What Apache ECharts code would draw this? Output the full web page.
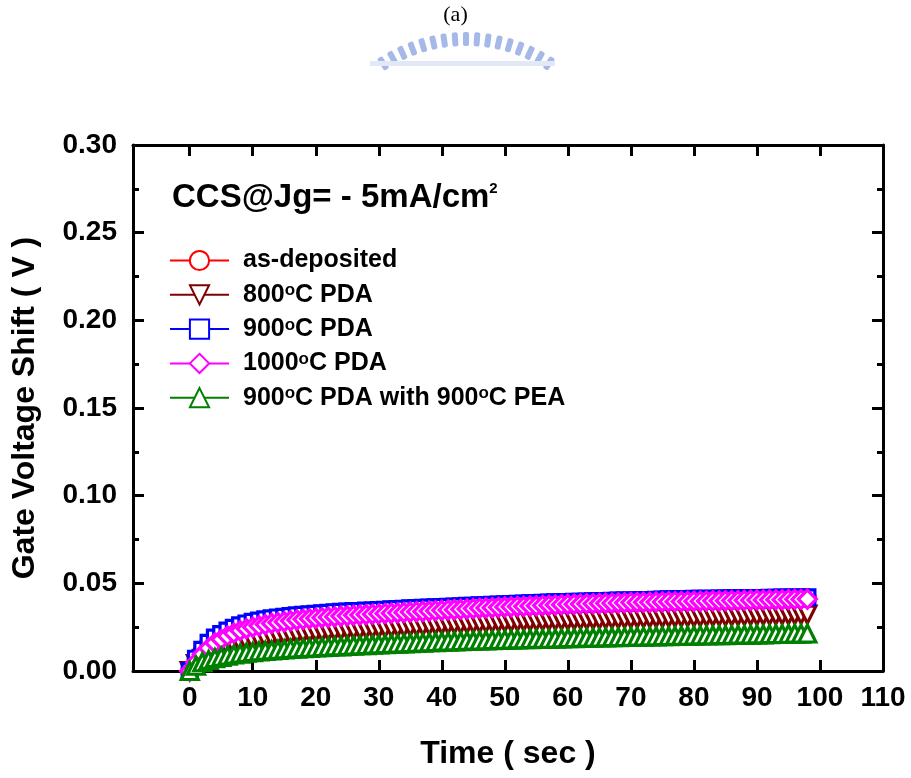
<!DOCTYPE html>
<html>
<head>
<meta charset="utf-8">
<script src="https://cdn.jsdelivr.net/npm/echarts@6/dist/echarts.min.js"></script>
<style>html,body{margin:0;padding:0;background:#fff}#c{width:911px;height:778px}</style>
</head>
<body>
<div id="c"></div>
<script>
// ---- data ----
const TIME = [0,1,2,3,4,5,6,7,8,9,10,11,12,13,14,15,16,17,18,19,20,21,22,23,24,25,26,27,28,29,30,31,32,33,34,35,36,37,38,39,40,41,42,43,44,45,46,47,48,49,50,51,52,53,54,55,56,57,58,59,60,61,62,63,64,65,66,67,68,69,70,71,72,73,74,75,76,77,78,79,80,81,82,83,84,85,86,87,88,89,90,91,92,93,94,95,96,97,98];
const AS_DEP = [0,.0066,.0116,.0156,.0186,.0207,.0226,.0242,.0256,.0267,.0276,.0284,.0291,.0297,.0302,.0306,.0310,.0314,.0317,.0320,.0323,.0326,.0329,.0332,.0334,.0336,.0338,.0339,.0341,.0342,.0344,.0346,.0348,.0350,.0352,.0354,.0356,.0357,.0359,.0360,.0362,.0363,.0365,.0366,.0368,.0369,.0371,.0372,.0374,.0375,.0377,.0378,.0380,.0381,.0383,.0384,.0385,.0387,.0388,.0389,.0390,.0391,.0392,.0393,.0394,.0395,.0396,.0397,.0398,.0398,.0399,.0400,.0401,.0402,.0403,.0404,.0405,.0406,.0407,.0407,.0408,.0408,.0409,.0409,.0410,.0410,.0411,.0411,.0412,.0412,.0413,.0413,.0414,.0414,.0415,.0415,.0416,.0416,.0417];
const PDA800 = [0,.0040,.0070,.0090,.0106,.0120,.0132,.0144,.0155,.0163,.0170,.0177,.0183,.0190,.0195,.0200,.0204,.0208,.0212,.0215,.0218,.0221,.0224,.0227,.0230,.0232,.0234,.0236,.0238,.0240,.0242,.0244,.0246,.0248,.0250,.0252,.0254,.0256,.0258,.0260,.0262,.0264,.0265,.0267,.0268,.0270,.0271,.0273,.0274,.0276,.0277,.0278,.0280,.0281,.0282,.0283,.0284,.0285,.0286,.0287,.0288,.0289,.0290,.0291,.0292,.0293,.0294,.0295,.0296,.0297,.0298,.0299,.0300,.0301,.0302,.0302,.0303,.0304,.0305,.0306,.0306,.0307,.0308,.0309,.0310,.0310,.0311,.0312,.0313,.0314,.0314,.0315,.0316,.0317,.0318,.0318,.0319,.0320,.0321];
const PDA900 = [0,.0070,.0120,.0160,.0190,.0210,.0230,.0246,.0260,.0271,.0280,.0287,.0294,.0300,.0305,.0309,.0313,.0317,.0320,.0323,.0326,.0329,.0332,.0335,.0337,.0339,.0341,.0342,.0344,.0345,.0347,.0349,.0351,.0353,.0355,.0357,.0359,.0360,.0362,.0363,.0365,.0366,.0368,.0369,.0371,.0372,.0374,.0375,.0377,.0378,.0380,.0381,.0383,.0384,.0386,.0387,.0388,.0390,.0391,.0392,.0393,.0394,.0395,.0396,.0397,.0398,.0399,.0400,.0401,.0401,.0402,.0403,.0404,.0405,.0406,.0407,.0408,.0409,.0410,.0410,.0411,.0411,.0412,.0412,.0413,.0413,.0414,.0414,.0415,.0415,.0416,.0416,.0417,.0417,.0418,.0418,.0419,.0419,.0420];
const PDA1000 = [0,.0050,.0095,.0130,.0160,.0180,.0200,.0216,.0230,.0241,.0250,.0258,.0265,.0271,.0276,.0281,.0286,.0291,.0295,.0298,.0301,.0304,.0307,.0310,.0313,.0315,.0318,.0320,.0322,.0324,.0326,.0328,.0330,.0332,.0334,.0336,.0338,.0340,.0342,.0344,.0346,.0348,.0350,.0352,.0354,.0356,.0358,.0360,.0361,.0363,.0365,.0366,.0368,.0369,.0371,.0372,.0374,.0375,.0377,.0378,.0380,.0381,.0382,.0383,.0384,.0385,.0386,.0387,.0388,.0389,.0390,.0391,.0392,.0392,.0393,.0394,.0395,.0395,.0396,.0397,.0398,.0398,.0399,.0400,.0400,.0401,.0402,.0402,.0403,.0404,.0405,.0405,.0406,.0407,.0407,.0408,.0409,.0409,.0410];
const PDA900_PEA = [0,.0030,.0050,.0063,.0073,.0081,.0088,.0094,.0099,.0104,.0108,.0112,.0115,.0118,.0121,.0123,.0126,.0128,.0130,.0132,.0134,.0136,.0138,.0140,.0141,.0143,.0145,.0147,.0148,.0150,.0152,.0153,.0155,.0156,.0158,.0159,.0161,.0162,.0164,.0165,.0167,.0168,.0169,.0170,.0172,.0173,.0174,.0175,.0176,.0177,.0178,.0179,.0180,.0181,.0182,.0183,.0183,.0184,.0185,.0186,.0187,.0188,.0189,.0190,.0190,.0191,.0192,.0193,.0193,.0194,.0195,.0196,.0196,.0197,.0198,.0199,.0199,.0200,.0201,.0201,.0202,.0203,.0203,.0204,.0205,.0205,.0206,.0207,.0207,.0208,.0209,.0209,.0210,.0211,.0211,.0212,.0213,.0213,.0214];
const SERIES_NAMES = ['as-deposited','800°C PDA','900°C PDA','1000°C PDA','900°C PDA with 900°C PEA'];
const SERIES_VALUES = [AS_DEP, PDA800, PDA900, PDA1000, PDA900_PEA];
const X_TICKS = [0,10,20,30,40,50,60,70,80,90,100,110];
const Y_TICKS = [0,0.05,0.10,0.15,0.20,0.25,0.30];

// ---- styles ----
const COLORS = ['#ff0000','#800000','#0000ff','#ff00ff','#008000'];
const SYMBOLS = ['circle','triangle','rect','diamond','triangle'];
const ROTATE = [0,180,0,0,0];
const SIZES = [16,17,15,18,17];
const FONT = '"Liberation Sans", Arial, sans-serif';

const chart = echarts.init(document.getElementById('c'), null, {renderer:'canvas'});

function mk(i){
  return {
    name: SERIES_NAMES[i], type:'line',
    data: TIME.map((t,k)=>[t, SERIES_VALUES[i][k]]),
    symbol: SYMBOLS[i], symbolSize: SIZES[i], symbolRotate: ROTATE[i],
    showAllSymbol: true, clip:false,
    lineStyle:{color:COLORS[i], width:3},
    itemStyle:{color:'#ffffff', borderColor:COLORS[i], borderWidth:3.2},
    emphasis:{disabled:true}, animation:false
  };
}

// decorative watermark (logo teeth along an arc)
const wm = [];
const cx = 466, cy = 192, R = 160;
for (let k = -8; k <= 8; k++) {
  const a = k * 4.1 * Math.PI/180;
  wm.push({type:'rect', x: cx + R*Math.sin(a), y: cy - R*Math.cos(a), originX:0, originY:0,
    rotation: -a, shape:{x:-3, y:0, width:6, height:14, r:2},
    style:{fill:'#8ea6e2', opacity:0.8}, silent:true});
}
wm.push({type:'rect', shape:{x:370, y:61, width:185, height:5}, style:{fill:'#e2e8f6'}, silent:true});

const axisLine = {show:true, onZero:false, lineStyle:{color:'#000', width:3}};
const option = {
  backgroundColor:'#fff',
  animation:false,
  grid:{left:133, right:28, top:145, bottom:107, containLabel:false},
  legend:{
    orient:'vertical', left:164, top:243, itemWidth:59, itemHeight:24, itemGap:9.3,
    data: SERIES_NAMES,
    selectedMode:false,
    formatter: n => n.replace(/°/g,'{s|o}'),
    textStyle:{fontFamily:FONT, fontSize:25, fontWeight:'bold', color:'#000', padding:[0,0,0,9],
      rich:{s:{fontFamily:FONT, fontSize:17, fontWeight:'bold', color:'#000', verticalAlign:'top', lineHeight:19}}}
  },
  xAxis:[{
    type:'value', min:-9, max:110, position:'bottom',
    name:'Time ( sec )', nameLocation:'middle', nameGap:67,
    nameTextStyle:{fontFamily:FONT, fontSize:32, fontWeight:'bold', color:'#000'},
    axisLine, splitLine:{show:false},
    axisTick:{show:true, inside:true, length:11, lineStyle:{color:'#000', width:3}, customValues: X_TICKS},
    axisLabel:{show:true, margin:13, fontFamily:FONT, fontSize:28, fontWeight:'bold', color:'#000', customValues: X_TICKS}
  },{
    type:'value', min:-9, max:110, position:'top',
    axisLine, splitLine:{show:false},
    axisTick:{show:true, inside:true, length:11, lineStyle:{color:'#000', width:3}, customValues: X_TICKS},
    axisLabel:{show:false}
  }],
  yAxis:[{
    type:'value', min:0, max:0.3, interval:0.05, position:'left',
    name:'Gate Voltage Shift ( V )', nameLocation:'middle', nameGap:92,
    nameTextStyle:{fontFamily:FONT, fontSize:32, fontWeight:'bold', color:'#000'},
    axisLine, splitLine:{show:false},
    axisTick:{show:true, inside:true, length:11, lineStyle:{color:'#000', width:3}},
    minorTick:{show:true, splitNumber:2, length:6, lineStyle:{color:'#000', width:3}},
    axisLabel:{margin:16, fontFamily:FONT, fontSize:28, fontWeight:'bold', color:'#000', formatter:v=>v.toFixed(2)}
  },{
    type:'value', min:0, max:0.3, interval:0.05, position:'right',
    axisLine, splitLine:{show:false},
    axisTick:{show:true, inside:true, length:11, lineStyle:{color:'#000', width:3}},
    minorTick:{show:true, splitNumber:2, length:6, lineStyle:{color:'#000', width:3}},
    axisLabel:{show:false}
  }],
  graphic:[
    ...wm,
    {type:'text', left:'center', top:4, style:{text:'(a)', fontFamily:'"Liberation Serif", "Times New Roman", serif', fontSize:22, fill:'#000'}},
    {type:'text', x:172, y:198, style:{
      text:'{m|CCS@Jg= - 5mA/cm}{s|2}', verticalAlign:'middle',
      rich:{m:{fontFamily:FONT, fontSize:33, fontWeight:'bold', fill:'#000', lineHeight:34},
            s:{fontFamily:FONT, fontSize:15, fontWeight:'bold', fill:'#000', verticalAlign:'top', lineHeight:30}}}}
  ],
  series: SERIES_NAMES.map((_,i)=>mk(i))
};
chart.setOption(option);
</script>
</body>
</html>
